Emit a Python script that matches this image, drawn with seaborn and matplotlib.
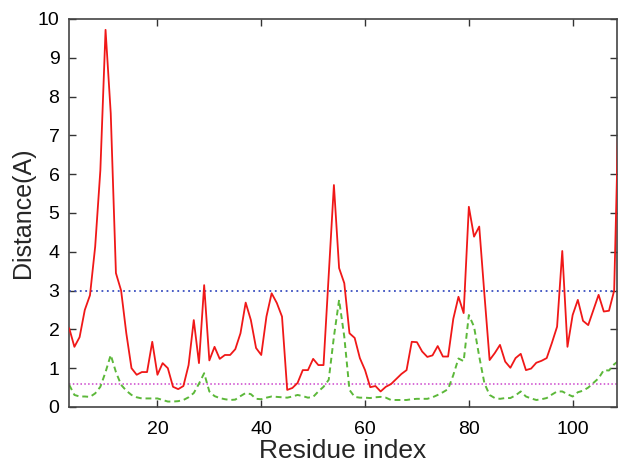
import numpy as np
import pandas as pd
import seaborn as sns
import matplotlib
matplotlib.use("Agg")
import matplotlib.pyplot as plt

# per-residue distances (residues 3..109)
residue = list(range(3, 110))
dist_red = [2.03, 1.55, 1.80, 2.50, 2.88, 4.13, 6.10, 9.72, 7.57, 3.45,
            3.00, 1.90, 1.00, 0.83, 0.90, 0.90, 1.68, 0.83, 1.13, 1.00,
            0.52, 0.46, 0.54, 1.08, 2.24, 1.13, 3.14, 1.20, 1.55, 1.24,
            1.34, 1.34, 1.49, 1.90, 2.69, 2.24, 1.52, 1.34, 2.33, 2.93,
            2.68, 2.33, 0.44, 0.49, 0.62, 0.95, 0.95, 1.24, 1.08, 1.08,
            3.40, 5.72, 3.58, 3.19, 1.90, 1.78, 1.26, 0.95, 0.51, 0.54,
            0.40, 0.52, 0.59, 0.72, 0.85, 0.95, 1.68, 1.67, 1.43, 1.29,
            1.33, 1.57, 1.30, 1.30, 2.27, 2.84, 2.42, 5.16, 4.39, 4.65,
            2.90, 1.21, 1.39, 1.60, 1.17, 1.01, 1.26, 1.37, 0.95, 0.99,
            1.14, 1.19, 1.26, 1.65, 2.07, 4.02, 1.55, 2.37, 2.76, 2.22,
            2.11, 2.50, 2.89, 2.46, 2.48, 3.00, 8.5]
dist_green = [0.57, 0.31, 0.27, 0.27, 0.26, 0.35, 0.52, 0.90, 1.34, 0.90,
              0.57, 0.42, 0.31, 0.25, 0.22, 0.22, 0.22, 0.22, 0.18, 0.14,
              0.14, 0.15, 0.18, 0.25, 0.36, 0.60, 0.87, 0.40, 0.28, 0.23,
              0.20, 0.18, 0.19, 0.28, 0.36, 0.33, 0.21, 0.20, 0.24, 0.27,
              0.26, 0.25, 0.24, 0.27, 0.31, 0.28, 0.24, 0.26, 0.40, 0.52,
              0.70, 1.81, 2.76, 1.81, 0.44, 0.26, 0.24, 0.24, 0.23, 0.25,
              0.26, 0.24, 0.18, 0.18, 0.18, 0.18, 0.20, 0.21, 0.21, 0.21,
              0.25, 0.31, 0.38, 0.46, 0.82, 1.25, 1.18, 2.37, 2.07, 1.30,
              0.61, 0.31, 0.23, 0.21, 0.23, 0.23, 0.30, 0.40, 0.27, 0.22,
              0.18, 0.20, 0.23, 0.32, 0.40, 0.40, 0.33, 0.27, 0.38, 0.42,
              0.50, 0.62, 0.74, 0.95, 0.94, 1.10, 1.20]
cutoff_high = 3.0
cutoff_low = 0.6

xticks = [20, 40, 60, 80, 100]
yticks = list(range(0, 11))

df = pd.DataFrame({"residue": residue, "red": dist_red, "green": dist_green})

sns.set_style("ticks")
plt.rcParams['font.family'] = ['Liberation Sans', 'DejaVu Sans']

fig = plt.figure(figsize=(6.18, 4.63), dpi=100)
ax = fig.add_axes([0.112, 0.121, 0.886, 0.838])

ax.axhline(cutoff_high, color='#3a4fc0', lw=1.3, ls=(0, (1, 2)), zorder=1)
ax.axhline(cutoff_low, color='#cc44cc', lw=1.1, ls=(0, (1, 1.5)), zorder=1)
sns.lineplot(data=df, x="residue", y="green", ax=ax, color='#5cb83a',
             lw=1.4, linestyle=(0, (3, 2)), zorder=2)
sns.lineplot(data=df, x="residue", y="red", ax=ax, color='#f01818',
             lw=1.3, zorder=3)

ax.set_xlim(3, 108.5)
ax.set_ylim(0, 10)
ax.set_xticks(xticks)
ax.set_yticks(yticks)
ax.tick_params(direction='in', top=True, right=True, length=5, width=1,
               colors='#333333', labelsize=14, labelcolor='black')
ax.tick_params(axis='x', pad=10)
ax.tick_params(axis='y', pad=7)
for s in ax.spines.values():
    s.set_color('#444444')
    s.set_linewidth(1.2)

ax.set_xlabel("Residue index", fontsize=19, labelpad=1)
ax.set_ylabel("Distance(A)", fontsize=18, labelpad=2)

fig.savefig("out.png", dpi=100)
